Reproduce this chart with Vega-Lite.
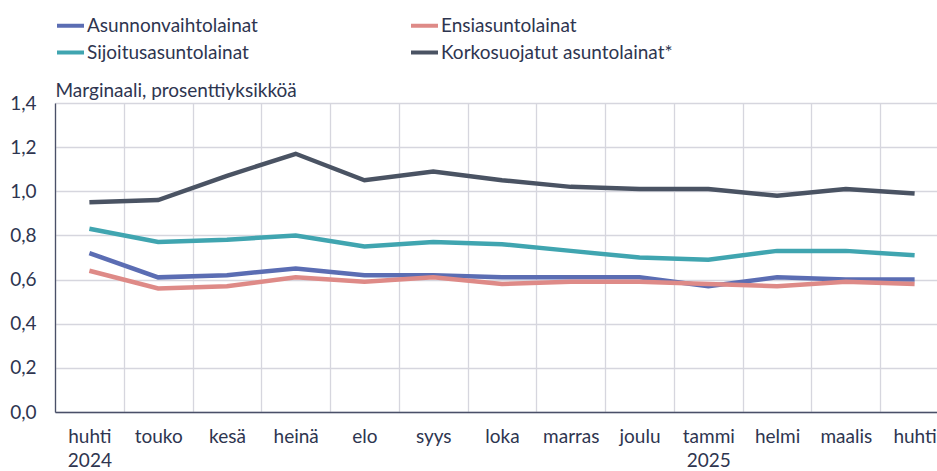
{
  "$schema": "https://vega.github.io/schema/vega-lite/v6.json",
  "width": 882,
  "height": 309,
  "autosize": {"type": "none"},
  "padding": {"left": 55, "top": 103, "right": 0, "bottom": 59},
  "background": "white",
  "config": {
    "font": "Lato",
    "view": {"stroke": null},
    "axis": {"labelFont": "Lato", "titleFont": "Lato", "labelColor": "#2e3550", "titleColor": "#2e3550"}
  },
  "data": {
    "values": [
      {"month": "huhti 2024", "series": "Asunnonvaihtolainat", "value": 0.72},
      {"month": "huhti 2024", "series": "Ensiasuntolainat", "value": 0.64},
      {"month": "huhti 2024", "series": "Sijoitusasuntolainat", "value": 0.83},
      {"month": "huhti 2024", "series": "Korkosuojatut asuntolainat*", "value": 0.95},
      {"month": "touko", "series": "Asunnonvaihtolainat", "value": 0.61},
      {"month": "touko", "series": "Ensiasuntolainat", "value": 0.56},
      {"month": "touko", "series": "Sijoitusasuntolainat", "value": 0.77},
      {"month": "touko", "series": "Korkosuojatut asuntolainat*", "value": 0.96},
      {"month": "kesä", "series": "Asunnonvaihtolainat", "value": 0.62},
      {"month": "kesä", "series": "Ensiasuntolainat", "value": 0.57},
      {"month": "kesä", "series": "Sijoitusasuntolainat", "value": 0.78},
      {"month": "kesä", "series": "Korkosuojatut asuntolainat*", "value": 1.07},
      {"month": "heinä", "series": "Asunnonvaihtolainat", "value": 0.65},
      {"month": "heinä", "series": "Ensiasuntolainat", "value": 0.61},
      {"month": "heinä", "series": "Sijoitusasuntolainat", "value": 0.80},
      {"month": "heinä", "series": "Korkosuojatut asuntolainat*", "value": 1.17},
      {"month": "elo", "series": "Asunnonvaihtolainat", "value": 0.62},
      {"month": "elo", "series": "Ensiasuntolainat", "value": 0.59},
      {"month": "elo", "series": "Sijoitusasuntolainat", "value": 0.75},
      {"month": "elo", "series": "Korkosuojatut asuntolainat*", "value": 1.05},
      {"month": "syys", "series": "Asunnonvaihtolainat", "value": 0.62},
      {"month": "syys", "series": "Ensiasuntolainat", "value": 0.61},
      {"month": "syys", "series": "Sijoitusasuntolainat", "value": 0.77},
      {"month": "syys", "series": "Korkosuojatut asuntolainat*", "value": 1.09},
      {"month": "loka", "series": "Asunnonvaihtolainat", "value": 0.61},
      {"month": "loka", "series": "Ensiasuntolainat", "value": 0.58},
      {"month": "loka", "series": "Sijoitusasuntolainat", "value": 0.76},
      {"month": "loka", "series": "Korkosuojatut asuntolainat*", "value": 1.05},
      {"month": "marras", "series": "Asunnonvaihtolainat", "value": 0.61},
      {"month": "marras", "series": "Ensiasuntolainat", "value": 0.59},
      {"month": "marras", "series": "Sijoitusasuntolainat", "value": 0.73},
      {"month": "marras", "series": "Korkosuojatut asuntolainat*", "value": 1.02},
      {"month": "joulu", "series": "Asunnonvaihtolainat", "value": 0.61},
      {"month": "joulu", "series": "Ensiasuntolainat", "value": 0.59},
      {"month": "joulu", "series": "Sijoitusasuntolainat", "value": 0.70},
      {"month": "joulu", "series": "Korkosuojatut asuntolainat*", "value": 1.01},
      {"month": "tammi 2025", "series": "Asunnonvaihtolainat", "value": 0.57},
      {"month": "tammi 2025", "series": "Ensiasuntolainat", "value": 0.58},
      {"month": "tammi 2025", "series": "Sijoitusasuntolainat", "value": 0.69},
      {"month": "tammi 2025", "series": "Korkosuojatut asuntolainat*", "value": 1.01},
      {"month": "helmi", "series": "Asunnonvaihtolainat", "value": 0.61},
      {"month": "helmi", "series": "Ensiasuntolainat", "value": 0.57},
      {"month": "helmi", "series": "Sijoitusasuntolainat", "value": 0.73},
      {"month": "helmi", "series": "Korkosuojatut asuntolainat*", "value": 0.98},
      {"month": "maalis", "series": "Asunnonvaihtolainat", "value": 0.60},
      {"month": "maalis", "series": "Ensiasuntolainat", "value": 0.59},
      {"month": "maalis", "series": "Sijoitusasuntolainat", "value": 0.73},
      {"month": "maalis", "series": "Korkosuojatut asuntolainat*", "value": 1.01},
      {"month": "huhti", "series": "Asunnonvaihtolainat", "value": 0.60},
      {"month": "huhti", "series": "Ensiasuntolainat", "value": 0.58},
      {"month": "huhti", "series": "Sijoitusasuntolainat", "value": 0.71},
      {"month": "huhti", "series": "Korkosuojatut asuntolainat*", "value": 0.99}
    ]
  },
  "mark": {"type": "line", "strokeWidth": 4.5, "strokeJoin": "miter", "strokeCap": "butt"},
  "encoding": {
    "x": {
      "field": "month",
      "type": "ordinal",
      "sort": null,
      "scale": {"type": "band", "paddingInner": 0, "paddingOuter": 0, "range": [0, 894]},
      "axis": {
        "title": null,
        "tickBand": "extent",
        "grid": true,
        "gridColor": "#d6d6de",
        "gridWidth": 1.3,
        "ticks": false,
        "domain": true,
        "domainColor": "#4a5068",
        "domainWidth": 1.3,
        "labelAngle": 0,
        "labelFontSize": 19,
        "labelPadding": 24,
        "labelBaseline": "middle",
        "labelLineHeight": 24,
        "labelExpr": "datum.value ? split(datum.value, ' ') : ''"
      }
    },
    "y": {
      "field": "value",
      "type": "quantitative",
      "scale": {"domain": [0, 1.4], "nice": false, "zero": true},
      "axis": {
        "values": [0, 0.2, 0.4, 0.6, 0.8, 1.0, 1.2, 1.4],
        "labelExpr": "replace(format(datum.value, '.1f'), '.', ',')",
        "grid": true,
        "gridColor": "#d6d6de",
        "gridWidth": 1.3,
        "ticks": false,
        "domain": true,
        "domainColor": "#4a5068",
        "domainWidth": 1.3,
        "labelFontSize": 19,
        "labelPadding": 19,
        "title": "Marginaali, prosenttiyksikköä",
        "titleAngle": 0,
        "titleAlign": "left",
        "titleBaseline": "middle",
        "titleX": 0,
        "titleY": -13,
        "titleFontSize": 19,
        "titleFontWeight": "normal"
      }
    },
    "color": {
      "field": "series",
      "type": "nominal",
      "sort": ["Asunnonvaihtolainat", "Ensiasuntolainat", "Sijoitusasuntolainat", "Korkosuojatut asuntolainat*"],
      "scale": {
        "domain": ["Asunnonvaihtolainat", "Ensiasuntolainat", "Sijoitusasuntolainat", "Korkosuojatut asuntolainat*"],
        "range": ["#5b6db3", "#de8a87", "#40a5b0", "#4a5363"]
      },
      "legend": {
        "title": null,
        "orient": "none",
        "legendX": 0,
        "legendY": -93,
        "direction": "horizontal",
        "columns": 2,
        "columnPadding": 145,
        "rowPadding": 1,
        "symbolType": "stroke",
        "symbolSize": 729,
        "symbolStrokeWidth": 4,
        "symbolOffset": 0,
        "labelOffset": 1,
        "labelFontSize": 19,
        "labelColor": "#2e3550",
        "labelFont": "Lato",
        "labelLimit": 400
      }
    }
  }
}
